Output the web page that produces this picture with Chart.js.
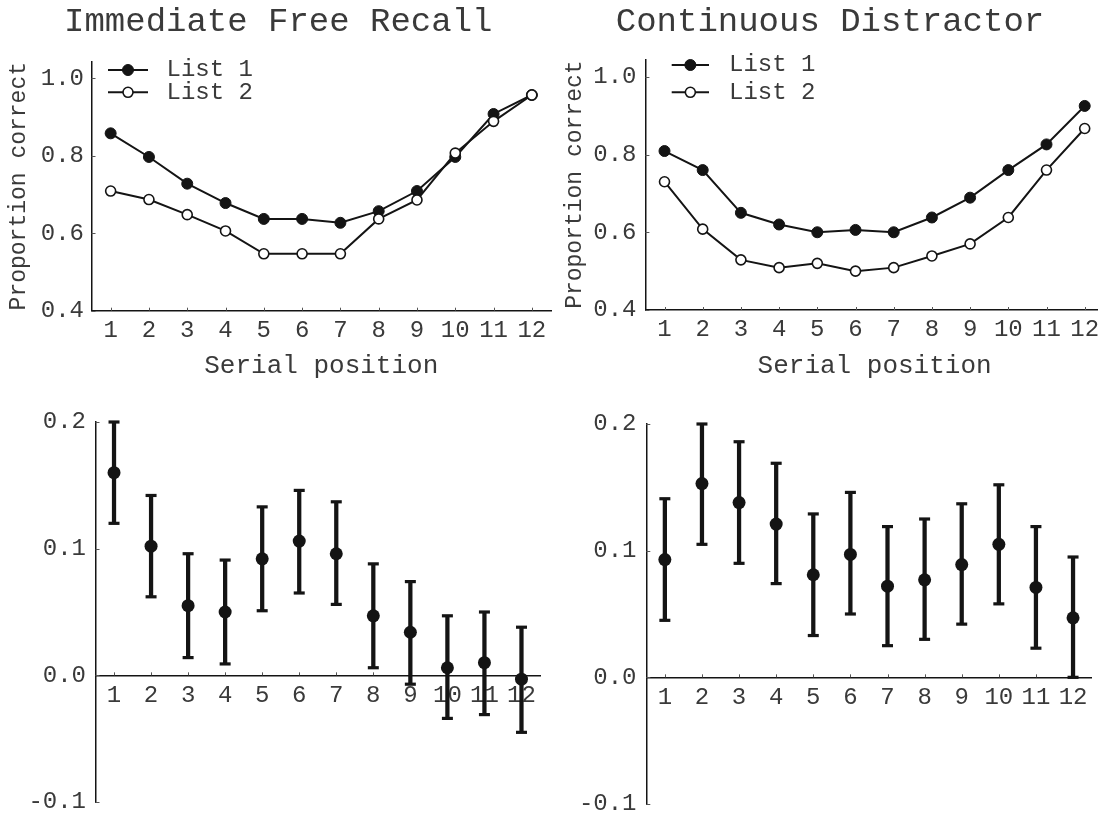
<!DOCTYPE html>
<html>
<head>
<meta charset="utf-8">
<script src="https://cdn.jsdelivr.net/npm/chart.js@4.4.1/dist/chart.umd.min.js"></script>
<style>
  html, body { margin: 0; padding: 0; background: #fff; overflow: hidden; }
  #wrap { position: relative; width: 1098px; height: 816px; overflow: hidden; background: #fff; }
  #wrap canvas { position: absolute; }
</style>
</head>
<body>
<div id="wrap">
  <canvas id="c1" width="560" height="400" style="left:0px;top:0px;width:560px;height:400px"></canvas>
  <canvas id="c2" width="562" height="400" style="left:549px;top:0px;width:562px;height:400px"></canvas>
  <canvas id="c3" width="556" height="416" style="left:0px;top:400px;width:556px;height:416px"></canvas>
  <canvas id="c4" width="556" height="416" style="left:549px;top:400px;width:556px;height:416px"></canvas>
</div>
<script>
// ---------------- data ----------------
const serialPositions = ['1', '2', '3', '4', '5', '6', '7', '8', '9', '10', '11', '12'];
const legendLabels = ['List 1', 'List 2'];
const panelTitles = ['Immediate Free Recall', 'Continuous Distractor'];
const xAxisTitle = 'Serial position';
const yAxisTitle = 'Proportion correct';

const topYTicks = [0.4, 0.6, 0.8, 1.0];
const bottomYTicks = [-0.1, 0.0, 0.1, 0.2];

// Immediate free recall: proportion correct
const ifrList1 = [0.858, 0.797, 0.728, 0.678, 0.637, 0.637, 0.627, 0.657, 0.709, 0.797, 0.908, 0.957];
const ifrList2 = [0.709, 0.687, 0.648, 0.606, 0.547, 0.547, 0.547, 0.637, 0.686, 0.807, 0.889, 0.957];

// Continuous distractor: proportion correct
const cdList1 = [0.809, 0.760, 0.650, 0.620, 0.600, 0.606, 0.600, 0.638, 0.689, 0.760, 0.826, 0.925];
const cdList2 = [0.730, 0.608, 0.529, 0.509, 0.520, 0.500, 0.509, 0.539, 0.570, 0.638, 0.760, 0.867];

// Immediate free recall: difference (List 1 - List 2) with intervals
const ifrDiff  = [0.160, 0.102, 0.055, 0.050, 0.092, 0.106, 0.096, 0.047, 0.034, 0.006, 0.010, -0.003];
const ifrUpper = [0.200, 0.142, 0.096, 0.091, 0.133, 0.146, 0.137, 0.088, 0.074, 0.047, 0.050, 0.038];
const ifrLower = [0.120, 0.062, 0.014, 0.009, 0.051, 0.065, 0.056, 0.006, -0.007, -0.034, -0.031, -0.045];

// Continuous distractor: difference with intervals
const cdDiff  = [0.093, 0.153, 0.138, 0.121, 0.081, 0.097, 0.072, 0.077, 0.089, 0.105, 0.071, 0.047];
const cdUpper = [0.141, 0.200, 0.186, 0.169, 0.129, 0.146, 0.119, 0.125, 0.137, 0.152, 0.119, 0.095];
const cdLower = [0.045, 0.105, 0.090, 0.074, 0.033, 0.050, 0.025, 0.030, 0.042, 0.058, 0.023, 0.000];

// ---------------- style ----------------
const INK = '#141414';
const TEXT = '#3a3a3a';
const FONT = "'Liberation Mono', 'Courier New', monospace";
Chart.defaults.font.family = FONT;
Chart.defaults.font.weight = 'normal';
Chart.defaults.color = TEXT;

// inward tick marks drawn through the chart's own scales
const innerTicks = {
  id: 'innerTicks',
  beforeDatasetsDraw(chart, args, opts) {
    const { ctx, chartArea, scales } = chart;
    const x = scales.x, y = scales.y;
    ctx.save();
    ctx.strokeStyle = opts.color || INK;
    ctx.lineWidth = 1;
    ctx.beginPath();
    y.ticks.forEach(t => {
      const py = Math.round(y.getPixelForValue(t.value)) + 0.5;
      ctx.moveTo(chartArea.left, py);
      ctx.lineTo(chartArea.left + (opts.yLen || 4), py);
    });
    const axisY = (opts.xAt !== undefined) ? y.getPixelForValue(opts.xAt) : chartArea.bottom;
    x.ticks.forEach((t, i) => {
      const px = Math.round(x.getPixelForTick(i)) + 0.5;
      ctx.moveTo(px, axisY);
      ctx.lineTo(px, axisY - (opts.xLen || 3));
    });
    ctx.stroke();
    ctx.restore();
  }
};

// legend with line + marker samples, placed inside the plot
const lineLegend = {
  id: 'lineLegend',
  afterDraw(chart, args, opts) {
    if (!opts || !opts.display) return;
    const ctx = chart.ctx;
    const ca = chart.chartArea;
    chart.data.datasets.forEach((ds, i) => {
      const y = ca.top + opts.rows[i];
      const x0 = ca.left + opts.x0, x1 = ca.left + opts.x1;
      ctx.save();
      ctx.strokeStyle = ds.borderColor;
      ctx.lineWidth = ds.borderWidth;
      ctx.beginPath(); ctx.moveTo(x0, y); ctx.lineTo(x1, y); ctx.stroke();
      ctx.beginPath();
      ctx.arc((x0 + x1) / 2, y, ds.pointRadius, 0, Math.PI * 2);
      ctx.fillStyle = ds.pointBackgroundColor; ctx.fill();
      ctx.lineWidth = ds.pointBorderWidth; ctx.strokeStyle = ds.pointBorderColor; ctx.stroke();
      ctx.font = opts.fontSize + 'px ' + FONT;
      ctx.fillStyle = TEXT;
      ctx.textBaseline = 'middle';
      ctx.textAlign = 'left';
      ctx.fillText(ds.label, ca.left + opts.textX, y);
      ctx.restore();
    });
  }
};

function axisGrid() {
  return { display: true, drawOnChartArea: false, drawTicks: false };
}
function axisBorder() {
  return { display: true, color: INK, width: 1.5 };
}

function topPanel(id, title, list1, list2, lay) {
  return new Chart(document.getElementById(id), {
    type: 'line',
    data: {
      labels: serialPositions,
      datasets: [
        { label: legendLabels[0], data: list1, borderColor: INK, borderWidth: 2,
          pointRadius: 5.5, pointBackgroundColor: INK, pointBorderColor: INK, pointBorderWidth: 1,
          order: 1, clip: false, tension: 0 },
        { label: legendLabels[1], data: list2, borderColor: INK, borderWidth: 2,
          pointRadius: 5, pointBackgroundColor: '#ffffff', pointBorderColor: INK, pointBorderWidth: 1.6,
          order: 0, clip: false, tension: 0 }
      ]
    },
    plugins: [innerTicks, lineLegend],
    options: {
      responsive: false, animation: false, devicePixelRatio: 1, events: [],
      layout: { padding: { left: lay.padL, right: lay.padR, top: 0, bottom: 0 } },
      plugins: {
        legend: { display: false },
        tooltip: { enabled: false },
        title: { display: true, text: title, color: TEXT,
                 font: { size: 34, weight: 'normal', lineHeight: 1.2 },
                 padding: { top: 1.5, bottom: lay.titleGap } },
        innerTicks: { yLen: 4, xLen: 3, color: '#555' },
        lineLegend: { display: true, x0: lay.lg.x0, x1: lay.lg.x1, textX: lay.lg.textX, rows: lay.lg.rows, fontSize: 24 }
      },
      scales: {
        x: {
          type: 'category', offset: true,
          grid: axisGrid(), border: axisBorder(),
          ticks: { font: { size: 24, lineHeight: 1.2 }, color: TEXT, padding: 5.6, maxRotation: 0, autoSkip: false },
          title: { display: true, text: xAxisTitle, color: TEXT, font: { size: 26, lineHeight: 1.2 },
                   padding: { top: 0, bottom: 18.4 } },
          afterFit: s => { s.height = lay.xh; }
        },
        y: {
          type: 'linear', min: 0.4, max: lay.ymax,
          grid: axisGrid(), border: axisBorder(),
          afterBuildTicks: s => { s.ticks = topYTicks.map(v => ({ value: v })); },
          ticks: { font: { size: 24, lineHeight: 1.2 }, color: TEXT, padding: lay.ytp,
                   callback: v => Number(v).toFixed(1) },
          title: { display: true, text: yAxisTitle, color: TEXT, font: { size: 23, lineHeight: 1.2 },
                   padding: { top: lay.ytitle, bottom: 0 } },
          afterFit: s => { s.width = lay.yw; s.paddingTop = 0; s.paddingBottom = 0; }
        }
      }
    }
  });
}

function bottomPanel(id, diff, upper, lower, lay) {
  return new Chart(document.getElementById(id), {
    type: 'bar',
    data: {
      labels: serialPositions,
      datasets: [
        { type: 'line', label: 'Difference', data: diff, showLine: false,
          pointRadius: 6.5, pointBackgroundColor: INK, pointBorderColor: INK, pointBorderWidth: 0,
          order: 0, clip: false },
        { type: 'line', label: 'Upper', data: upper, showLine: false, pointStyle: 'line',
          pointRadius: 5.5, pointBorderColor: INK, pointBackgroundColor: INK, pointBorderWidth: 3.2,
          order: 1, clip: false },
        { type: 'line', label: 'Lower', data: lower, showLine: false, pointStyle: 'line',
          pointRadius: 5.5, pointBorderColor: INK, pointBackgroundColor: INK, pointBorderWidth: 3.2,
          order: 1, clip: false },
        { type: 'bar', label: 'Interval', data: lower.map((l, i) => [l, upper[i]]),
          backgroundColor: INK, borderWidth: 0, barThickness: 3.6, order: 2, clip: false }
      ]
    },
    plugins: [innerTicks],
    options: {
      responsive: false, animation: false, devicePixelRatio: 1, events: [],
      layout: { padding: { left: 0, right: lay.padR, top: lay.padT, bottom: lay.padB } },
      plugins: {
        legend: { display: false },
        tooltip: { enabled: false },
        title: { display: false },
        innerTicks: { yLen: 4, xLen: 3, xAt: 0, color: '#555' }
      },
      scales: {
        x: {
          type: 'category', offset: true, position: { y: 0 },
          grid: axisGrid(), border: axisBorder(),
          ticks: { font: { size: 24, lineHeight: 1.2 }, color: TEXT, padding: 6.3, maxRotation: 0, autoSkip: false },
          afterFit: s => { s.height = 0; s.paddingTop = 0; s.paddingBottom = 0; }
        },
        y: {
          type: 'linear', min: -0.1, max: 0.2,
          grid: axisGrid(), border: axisBorder(),
          afterBuildTicks: s => { s.ticks = bottomYTicks.map(v => ({ value: v })); },
          ticks: { font: { size: 24, lineHeight: 1.2 }, color: TEXT, padding: lay.ytp,
                   callback: v => Number(v).toFixed(1) },
          afterFit: s => { s.width = lay.yw; s.paddingTop = 0; s.paddingBottom = 0; }
        }
      }
    }
  });
}

topPanel('c1', panelTitles[0], ifrList1, ifrList2, {
  padL: 5.5, padR: 9, titleGap: 19.4, xh: 89.3, ymax: 1.043, yw: 86, ytp: 7.5, ytitle: 0,
  lg: { x0: 16.5, x1: 56.5, textX: 75, rows: [8.3, 30.6] }
});
topPanel('c2', panelTitles[1], cdList1, cdList2, {
  padL: 7.2, padR: 7.2, titleGap: 17, xh: 90, ymax: 1.045, yw: 89.2, ytp: 8.9, ytitle: 5,
  lg: { x0: 26.3, x1: 63.6, textX: 83.6, rows: [5.7, 33] }
});
bottomPanel('c3', ifrDiff, ifrUpper, ifrLower, { padR: 16, padT: 22, padB: 14, yw: 95.5, ytp: 9.5 });
bottomPanel('c4', cdDiff, cdUpper, cdLower, { padR: 13.4, padT: 24, padB: 12, yw: 97.3, ytp: 9.8 });
</script>
</body>
</html>
